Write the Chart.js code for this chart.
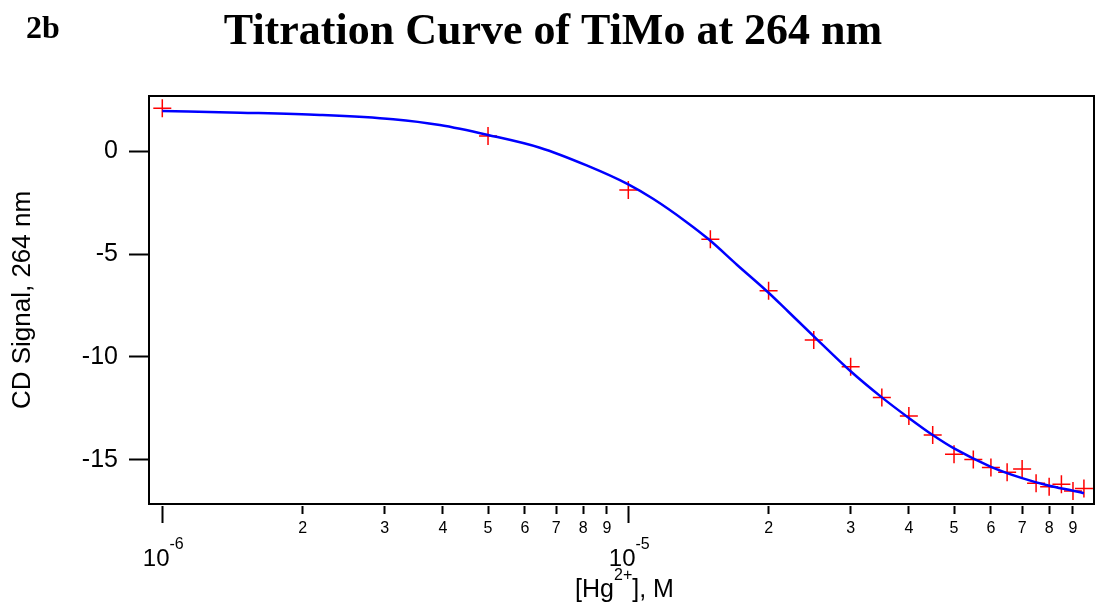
<!DOCTYPE html>
<html>
<head>
<meta charset="utf-8">
<script src="https://cdn.jsdelivr.net/npm/chart.js@4/dist/chart.umd.min.js"></script>
<style>
  html, body { margin: 0; padding: 0; background: #ffffff; }
  #wrap { width: 1096px; height: 607px; position: relative; }
</style>
</head>
<body>
<div id="wrap"><canvas id="c" width="1096" height="607"></canvas></div>
<script>
// ---- data ----
const concentrations = [1e-6, 5e-6, 1e-5, 1.5e-5, 2e-5, 2.5e-5, 3e-5, 3.5e-5, 4e-5, 4.5e-5,
                        5e-5, 5.5e-5, 6e-5, 6.5e-5, 7e-5, 7.5e-5, 8e-5, 8.5e-5, 9e-5, 9.5e-5];
const cdSignal = [2.07, 0.73, -1.89, -4.29, -6.78, -9.17, -10.47, -11.97, -12.86, -13.79,
                  -14.72, -14.97, -15.37, -15.60, -15.44, -16.13, -16.30, -16.18, -16.50, -16.38];

const fitX = [1e-6, 1.47e-6, 2.18e-6, 3.13e-6, 3.94e-6, 5e-6, 6.46e-6, 8.14e-6, 1e-5,
              1.13e-5, 1.33e-5, 1.49e-5, 1.71e-5, 2e-5, 2.2e-5, 2.54e-5, 3e-5, 3.5e-5, 4e-5,
              4.5e-5, 5e-5, 6e-5, 7e-5, 8e-5, 9e-5, 9.5e-5];
const fitY = [1.94, 1.86, 1.75, 1.54, 1.26, 0.78, 0.16, -0.70, -1.62,
              -2.32, -3.43, -4.30, -5.52, -6.88, -7.78, -9.14, -10.69, -11.96, -12.96,
              -13.79, -14.44, -15.33, -15.88, -16.25, -16.49, -16.61];

const xTickValues = [1e-6, 2e-6, 3e-6, 4e-6, 5e-6, 6e-6, 7e-6, 8e-6, 9e-6,
                     1e-5, 2e-5, 3e-5, 4e-5, 5e-5, 6e-5, 7e-5, 8e-5, 9e-5];
const xTickLabels = ['', '2', '3', '4', '5', '6', '7', '8', '9',
                     '', '2', '3', '4', '5', '6', '7', '8', '9'];
const xMajorValues = [1e-6, 1e-5];
const xMajorExponents = ['-6', '-5'];
const yTickValues = [0, -5, -10, -15];

const titleText = 'Titration Curve of TiMo at 264 nm';
const panelLabel = '2b';
const yTitle = 'CD Signal, 264 nm';

const SANS = '"Liberation Sans", Arial, sans-serif';
const SERIF = '"Liberation Serif", "Times New Roman", serif';

const extraText = {
  id: 'extraText',
  afterDraw(chart) {
    const ctx = chart.ctx;
    const a = chart.chartArea;
    const xs = chart.scales.x;
    ctx.save();
    // frame
    ctx.strokeStyle = '#000';
    ctx.lineWidth = 2;
    ctx.strokeRect(a.left, a.top, a.right - a.left, a.bottom - a.top);
    ctx.fillStyle = '#000';
    ctx.textBaseline = 'alphabetic';
    ctx.textAlign = 'left';
    // panel label
    ctx.font = 'bold 32px ' + SERIF;
    ctx.fillText(panelLabel, 26, 38);
    // major x labels 10^n
    xMajorValues.forEach((v, i) => {
      const px = xs.getPixelForValue(v);
      ctx.font = '24px ' + SANS;
      const w1 = ctx.measureText('10').width;
      ctx.font = '16px ' + SANS;
      const w2 = ctx.measureText(xMajorExponents[i]).width;
      const start = px - (w1 + w2) / 2 + 1;
      ctx.font = '24px ' + SANS;
      ctx.fillText('10', start, 566);
      ctx.font = '16px ' + SANS;
      ctx.fillText(xMajorExponents[i], start + w1, 549);
    });
    // x title [Hg2+], M
    const p1 = '[Hg', p2 = '2+', p3 = '], M';
    ctx.font = '25px ' + SANS;
    const wa = ctx.measureText(p1).width, wc = ctx.measureText(p3).width;
    ctx.font = '16px ' + SANS;
    const wb = ctx.measureText(p2).width;
    const cx = (a.left + a.right) / 2 + 3;
    let sx = cx - (wa + wb + wc) / 2;
    ctx.font = '25px ' + SANS;
    ctx.fillText(p1, sx, 597);
    ctx.font = '16px ' + SANS;
    ctx.fillText(p2, sx + wa, 580);
    ctx.font = '25px ' + SANS;
    ctx.fillText(p3, sx + wa + wb, 597);
    ctx.restore();
  }
};

new Chart(document.getElementById('c'), {
  type: 'scatter',
  data: {
    datasets: [
      {
        label: 'fit',
        data: fitX.map((x, i) => ({ x: x, y: fitY[i] })),
        showLine: true,
        borderColor: '#0000ff',
        backgroundColor: '#0000ff',
        borderWidth: 2.5,
        pointRadius: 0,
        pointHoverRadius: 0,
        cubicInterpolationMode: 'monotone',
        order: 0
      },
      {
        label: 'data',
        data: concentrations.map((x, i) => ({ x: x, y: cdSignal[i] })),
        pointStyle: 'cross',
        pointRadius: 9,
        pointHoverRadius: 9,
        borderColor: '#ff0000',
        backgroundColor: '#ff0000',
        pointBorderWidth: 1.5,
        showLine: false,
        order: 1
      }
    ]
  },
  options: {
    responsive: false,
    animation: false,
    devicePixelRatio: 1,
    layout: { autoPadding: false, padding: { left: 12, right: 2, top: 0, bottom: 0 } },
    plugins: {
      legend: { display: false },
      tooltip: { enabled: false },
      title: {
        display: true,
        text: titleText,
        color: '#000',
        font: { family: SERIF, size: 44, weight: 'bold', lineHeight: 1.2 },
        padding: { top: 6, bottom: 37.2 }
      }
    },
    scales: {
      x: {
        type: 'logarithmic',
        position: 'bottom',
        min: 9.364e-7,
        max: 9.985e-5,
        afterBuildTicks: (scale) => { scale.ticks = xTickValues.map(v => ({ value: v })); },
        afterFit: (scale) => { scale.height = 103; scale.paddingLeft = 0; scale.paddingRight = 0; },
        border: { display: false },
        grid: {
          display: true,
          drawOnChartArea: false,
          drawTicks: true,
          tickLength: 19,
          tickWidth: 2,
          tickColor: '#000',
          tickBorderDash: (ctx) => (xTickLabels[ctx.index] === '' ? [0, 2, 17, 100] : [0, 2, 8, 100])
        },
        ticks: {
          autoSkip: false,
          maxRotation: 0,
          minRotation: 0,
          padding: -4.5,
          color: '#000',
          font: { family: SANS, size: 16 },
          callback: (v, i) => xTickLabels[i]
        },
        title: { display: false }
      },
      y: {
        type: 'linear',
        position: 'left',
        min: -17.136,
        max: 2.67,
        afterBuildTicks: (scale) => { scale.ticks = yTickValues.map(v => ({ value: v })); },
        afterFit: (scale) => { scale.width = 137; },
        border: { display: false },
        grid: {
          display: true,
          drawOnChartArea: false,
          drawTicks: true,
          tickLength: 20,
          tickWidth: 2,
          tickColor: '#000'
        },
        ticks: {
          padding: 11,
          color: '#000',
          font: { family: SANS, size: 25 },
          callback: (v) => String(v)
        },
        title: {
          display: true,
          text: yTitle,
          color: '#000',
          font: { family: SANS, size: 26, lineHeight: 1.2 },
          padding: { top: -4.6, bottom: 0 }
        }
      }
    }
  },
  plugins: [extraText]
});
</script>
</body>
</html>
